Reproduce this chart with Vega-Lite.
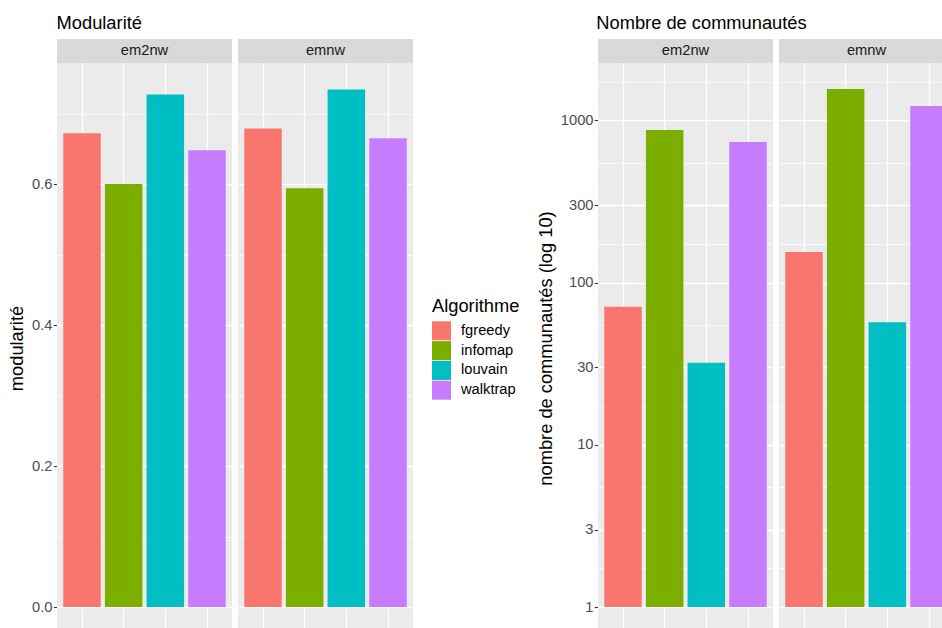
{
  "$schema": "https://vega.github.io/schema/vega-lite/v6.json",
  "padding": {"left": 7, "top": 14, "right": 0, "bottom": 0},
  "background": "white",
  "datasets": {
    "strips": [{"panel": "em2nw"}, {"panel": "emnw"}],
    "modul": [
      {"panel": "em2nw", "algo": "fgreedy", "value": 0.672},
      {"panel": "em2nw", "algo": "infomap", "value": 0.600},
      {"panel": "em2nw", "algo": "louvain", "value": 0.727},
      {"panel": "em2nw", "algo": "walktrap", "value": 0.648},
      {"panel": "emnw", "algo": "fgreedy", "value": 0.679},
      {"panel": "emnw", "algo": "infomap", "value": 0.594},
      {"panel": "emnw", "algo": "louvain", "value": 0.734},
      {"panel": "emnw", "algo": "walktrap", "value": 0.665}
    ],
    "comm": [
      {"panel": "em2nw", "algo": "fgreedy", "value": 71},
      {"panel": "em2nw", "algo": "infomap", "value": 871},
      {"panel": "em2nw", "algo": "louvain", "value": 32},
      {"panel": "em2nw", "algo": "walktrap", "value": 735},
      {"panel": "emnw", "algo": "fgreedy", "value": 154},
      {"panel": "emnw", "algo": "infomap", "value": 1560},
      {"panel": "emnw", "algo": "louvain", "value": 57},
      {"panel": "emnw", "algo": "walktrap", "value": 1225}
    ]
  },
  "config": {
    "font": "Liberation Sans",
    "view": {"fill": "#EBEBEB", "stroke": null},
    "axis": {
      "domain": false,
      "tickColor": "#333333",
      "tickSize": 3.7,
      "tickWidth": 1.07,
      "labelColor": "#4D4D4D",
      "labelFontSize": 14.7,
      "labelPadding": 1.3,
      "gridColor": "white",
      "titleFontSize": 18.3,
      "titleFontWeight": "normal",
      "titleColor": "black",
      "titlePadding": 5
    },
    "title": {"anchor": "start", "fontSize": 18.3, "fontWeight": "normal", "color": "black", "offset": 5.5},
    "legend": {"padding": 0}
  },
  "resolve": {"scale": {"color": "independent"}},
  "spacing": 16,
  "hconcat": [
    {
      "title": {"text": "Modularité", "dx": 49},
      "spacing": 0,
      "vconcat": [
        {
          "data": {"name": "strips"},
          "facet": {"column": {"field": "panel", "type": "nominal", "title": null, "header": {"labels": false, "title": null}}},
          "spacing": 6,
          "spec": {
            "width": 175,
            "height": 24,
            "view": {"fill": "#D9D9D9", "stroke": null},
            "mark": {"type": "text", "fontSize": 14.7, "color": "#1A1A1A"},
            "encoding": {"text": {"field": "panel", "type": "nominal"}}
          }
        },
        {
          "data": {"name": "modul"},
          "facet": {"column": {"field": "panel", "type": "nominal", "title": null, "header": {"labels": false, "title": null}}},
          "spacing": 6,
          "spec": {
            "width": 175,
            "height": 570,
            "mark": {"type": "bar"},
            "encoding": {
              "x": {
                "field": "algo", "type": "nominal",
                "scale": {"paddingInner": 0.1, "paddingOuter": 0.15},
                "axis": {"grid": true, "gridWidth": 1.4, "labels": false, "ticks": false, "title": null}
              },
              "y": {
                "field": "value", "type": "quantitative", "title": "modularité",
                "scale": {"domain": [-0.03675, 0.77175], "nice": false, "zero": false},
                "axis": {
                  "values": [0, 0.1, 0.2, 0.3, 0.4, 0.5, 0.6, 0.7],
                  "labelExpr": "round(datum.value*10) % 2 == 0 ? format(datum.value, '.1f') : ''",
                  "gridWidth": {"condition": {"test": "round(datum.value*10) % 2 == 1", "value": 0.7}, "value": 1.4},
                  "tickOpacity": {"condition": {"test": "round(datum.value*10) % 2 == 1", "value": 0}, "value": 1}
                }
              },
              "color": {
                "field": "algo", "type": "nominal", "title": "Algorithme",
                "scale": {"range": ["#F8766D", "#7CAE00", "#00BFC4", "#C77CFF"]},
                "legend": {
                  "orient": "none", "legendX": 375, "legendY": 259,
                  "symbolType": "square", "symbolSize": 361, "symbolStrokeWidth": 0, "symbolOpacity": 1,
                  "titleFontSize": 18.3, "titleFontWeight": "normal", "titleColor": "black", "titlePadding": 5,
                  "labelFontSize": 14.7, "labelColor": "black", "labelOffset": 10, "rowPadding": 0.8
                }
              }
            }
          }
        }
      ]
    },
    {
      "title": {"text": "Nombre de communautés", "dx": 60},
      "spacing": 0,
      "vconcat": [
        {
          "data": {"name": "strips"},
          "facet": {"column": {"field": "panel", "type": "nominal", "title": null, "header": {"labels": false, "title": null}}},
          "spacing": 6,
          "spec": {
            "width": 175,
            "height": 24,
            "view": {"fill": "#D9D9D9", "stroke": null},
            "mark": {"type": "text", "fontSize": 14.7, "color": "#1A1A1A"},
            "encoding": {"text": {"field": "panel", "type": "nominal"}}
          }
        },
        {
          "data": {"name": "comm"},
          "facet": {"column": {"field": "panel", "type": "nominal", "title": null, "header": {"labels": false, "title": null}}},
          "spacing": 6,
          "spec": {
            "width": 175,
            "height": 570,
            "mark": {"type": "bar"},
            "encoding": {
              "x": {
                "field": "algo", "type": "nominal",
                "scale": {"paddingInner": 0.1, "paddingOuter": 0.15},
                "axis": {"grid": true, "gridWidth": 1.4, "labels": false, "ticks": false, "title": null}
              },
              "y": {
                "field": "value", "type": "quantitative", "title": "nombre de communautés (log 10)",
                "scale": {"type": "log", "domain": [0.692, 2253], "nice": false},
                "axis": {
                  "values": [1, 1.732, 3, 5.477, 10, 17.32, 30, 54.77, 100, 173.2, 300, 547.7, 1000, 1732],
                  "labelExpr": "indexof([1,3,10,30,100,300,1000], datum.value) >= 0 ? format(datum.value, 'd') : ''",
                  "gridWidth": {"condition": {"test": "indexof([1,3,10,30,100,300,1000], datum.value) < 0", "value": 0.7}, "value": 1.4},
                  "tickOpacity": {"condition": {"test": "indexof([1,3,10,30,100,300,1000], datum.value) < 0", "value": 0}, "value": 1}
                }
              },
              "y2": {"datum": 1},
              "color": {
                "field": "algo", "type": "nominal",
                "scale": {"range": ["#F8766D", "#7CAE00", "#00BFC4", "#C77CFF"]},
                "legend": null
              }
            }
          }
        }
      ]
    }
  ]
}
